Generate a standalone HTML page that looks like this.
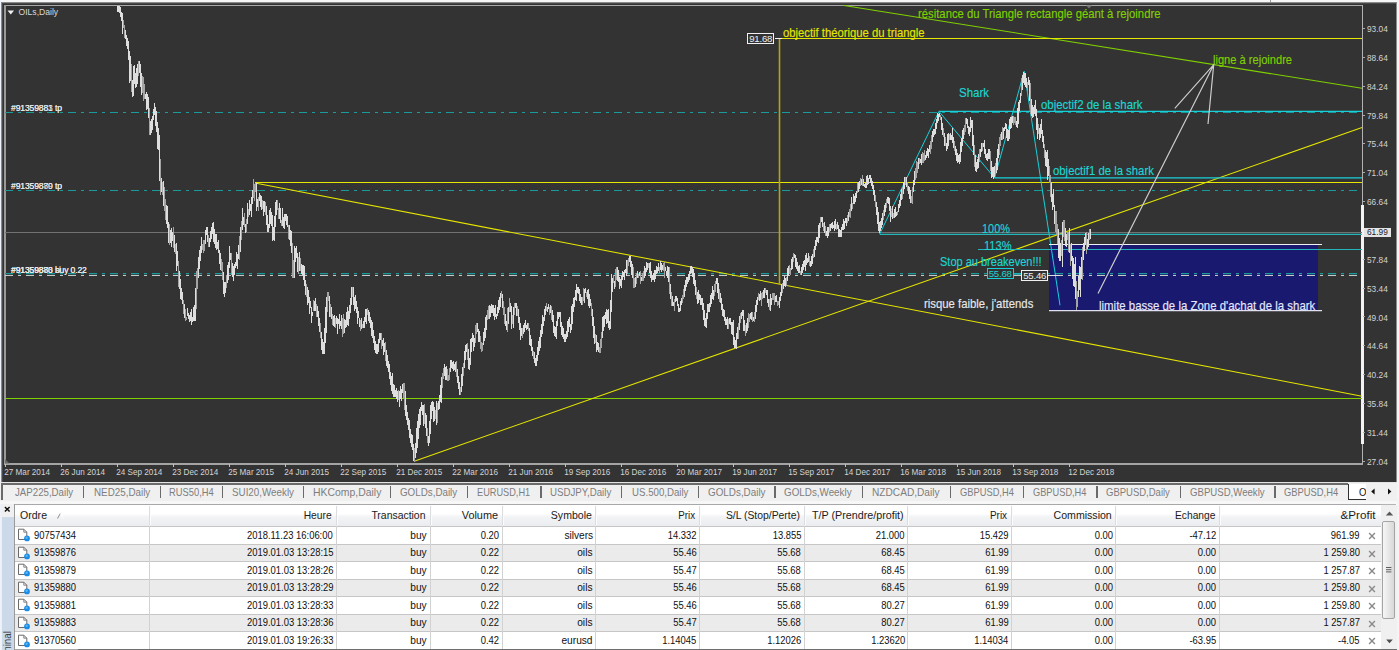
<!DOCTYPE html>
<html><head><meta charset="utf-8"><title>OILs,Daily</title>
<style>
html,body{margin:0;padding:0}
body{width:1399px;height:650px;position:relative;overflow:hidden;background:#f0f0f0;font-family:"Liberation Sans",sans-serif}
.bx{position:absolute}
.cl{position:absolute;white-space:nowrap;line-height:14px;-webkit-text-stroke:0.15px currentColor;transform-origin:0 0}
.pb{position:absolute;box-sizing:border-box;font-size:9.6px;line-height:9px;text-align:center;background:#333333;letter-spacing:-0.2px}
.ol{position:absolute;left:11px;white-space:nowrap;font-size:8.6px;line-height:11px;color:#e8e8e8;letter-spacing:-0.15px}
.ax{position:absolute;white-space:nowrap;font-size:8.3px;line-height:10px;color:#d4d4d4}
.tab{position:absolute;top:485.5px;white-space:nowrap;font-size:10.4px;line-height:14px;color:#7d7d7d;transform-origin:0 0}
.th{position:absolute;white-space:nowrap;font-size:10.5px;line-height:13px;color:#1a1a1a;transform-origin:0 0}
.td{position:absolute;white-space:nowrap;font-size:10.3px;line-height:13px;color:#101010;transform-origin:0 0}
.r{transform-origin:100% 0}
</style></head><body>
<div class="bx" style="left:0;top:0;width:1399px;height:2px;background:#f6f6f6"></div>
<div class="bx" style="left:1.4px;top:1.8px;width:1396px;height:481px;background:#8a8a8a"></div>
<div class="bx" style="left:2.2px;top:2.7px;width:1395px;height:480px;background:#484848"></div>
<div class="bx" style="left:3px;top:3.6px;width:1394px;height:478.4px;background:#333333"></div>
<div class="bx" style="left:1270px;top:0;width:1px;height:1.8px;background:#9a9a9a"></div>
<div class="bx" style="left:0;top:0;width:1.4px;height:650px;background:#eef2fa"></div>
<div class="bx" style="left:4px;top:5px;width:1359px;height:1px;background:#a8a8a8"></div>
<div class="bx" style="left:4px;top:5px;width:1.6px;height:459px;background:#9a9a9a"></div>
<div class="bx" style="left:4px;top:463.3px;width:1359px;height:1.3px;background:#a4a4a4"></div>
<div class="bx" style="left:1362px;top:5px;width:1px;height:459px;background:#b2b2b2"></div>
<div class="bx" style="left:1361px;top:205px;width:3px;height:238.5px;background:#f2f2f2"></div>
<svg width="1399" height="650" viewBox="0 0 1399 650" style="position:absolute;left:0;top:0"><rect x="1049" y="245" width="269" height="65.5" fill="#191970"/><line x1="5" y1="232.5" x2="1362" y2="232.5" stroke="#727272" stroke-width="1"/><line x1="5" y1="112.5" x2="1362" y2="112.5" stroke="#1a9a9a" stroke-width="1" stroke-dasharray="8 5 3 5"/><line x1="5" y1="190.5" x2="1362" y2="190.5" stroke="#1a9a9a" stroke-width="1" stroke-dasharray="8 5 3 5"/><line x1="5" y1="275.5" x2="1362" y2="275.5" stroke="#c8c8c8" stroke-width="1" stroke-dasharray="8 5 3 5"/><line x1="5" y1="273.7" x2="1362" y2="273.7" stroke="#1a9a9a" stroke-width="1.2" stroke-dasharray="8 5 3 5"/><line x1="5" y1="398.5" x2="1362" y2="398.5" stroke="#80d000" stroke-width="1.1"/><line x1="844" y1="5.5" x2="1362" y2="88.2" stroke="#80d000" stroke-width="1.1"/><line x1="255" y1="182.5" x2="1362" y2="182.5" stroke="#e6e600" stroke-width="1"/><line x1="255" y1="183" x2="1362" y2="396.3" stroke="#e6e600" stroke-width="1.05"/><line x1="415" y1="461" x2="1362" y2="127.5" stroke="#e6e600" stroke-width="1.05"/><line x1="779.5" y1="38" x2="779.5" y2="285" stroke="#b4a414" stroke-width="1.6"/><line x1="775" y1="38.5" x2="783" y2="38.5" stroke="#f0f0f0" stroke-width="1"/><line x1="782" y1="38.5" x2="1362" y2="38.5" stroke="#e6e600" stroke-width="1"/><polyline points="879.7,234 939,111.4 994.6,177.9 1024.2,71.3 1060,305.3" fill="none" stroke="#18d0da" stroke-width="1.0"/><line x1="939" y1="111.4" x2="1362" y2="111.4" stroke="#18d0da" stroke-width="1.3"/><line x1="994.6" y1="177.9" x2="1362" y2="177.9" stroke="#18d0da" stroke-width="1.2"/><line x1="879.7" y1="234.4" x2="1362" y2="234.4" stroke="#22b6ba" stroke-width="1.1"/><line x1="978" y1="249.5" x2="1362" y2="249.5" stroke="#22b6ba" stroke-width="1.2"/><line x1="1049" y1="244.5" x2="1322" y2="244.5" stroke="#f0f0f0" stroke-width="1.2"/><line x1="1049" y1="310.6" x2="1322" y2="310.6" stroke="#e0e0f0" stroke-width="1.2"/><path d="M117.5 5.5V11.7M118.5 5.5V11.5M119.5 5.5V12.8M120.5 7.3V16.5M121.5 12.1V21.4M122.5 13.4V34.1M125.5 30.3V38.7M126.5 35.1V45.8M127.5 37.5V48.7M128.5 40.5V60.1M129.5 51.4V82.9M130.5 56.0V80.6M132.5 80.3V97.1M133.5 66.2V95.5M134.5 64.6V83.7M135.5 73.0V87.5M136.5 68.3V87.0M137.5 64.0V83.7M139.5 60.6V73.1M140.5 64.1V87.2M141.5 72.9V94.5M145.5 94.3V99.2M146.5 91.6V110.0M147.5 94.1V109.1M148.5 96.9V118.3M150.5 121.0V134.5M151.5 119.0V133.2M152.5 116.3V129.8M153.5 108.8V119.7M154.5 103.4V114.5M155.5 106.7V126.2M156.5 110.5V131.5M157.5 121.5V149.1M158.5 128.3V150.1M159.5 135.1V181.4M161.5 177.8V192.1M163.5 181.3V205.5M166.5 204.7V223.5M167.5 206.2V228.2M168.5 222.1V242.8M170.5 230.1V242.7M171.5 227.9V247.2M172.5 232.3V241.2M174.5 234.9V251.6M176.5 243.4V271.3M177.5 250.8V266.0M179.5 271.4V288.6M180.5 279.0V298.9M181.5 288.2V300.4M182.5 291.9V304.1M184.5 304.1V318.1M187.5 307.7V316.0M188.5 313.1V319.1M189.5 314.8V322.1M190.5 312.1V320.7M191.5 308.5V324.8M192.5 317.4V321.9M193.5 306.8V320.5M194.5 305.3V321.1M195.5 288.4V321.1M198.5 256.9V277.7M199.5 250.2V269.2M200.5 246.4V261.4M201.5 237.4V252.8M205.5 230.4V244.3M206.5 226.6V235.1M207.5 226.6V241.7M209.5 238.0V246.6M210.5 231.4V242.3M211.5 226.8V239.2M212.5 222.5V234.4M213.5 222.3V241.5M214.5 229.0V244.1M215.5 233.5V247.5M216.5 233.9V250.1M217.5 241.5V248.8M218.5 239.5V253.2M219.5 250.2V264.1M220.5 253.2V270.0M223.5 271.9V293.5M224.5 282.0V296.8M225.5 282.0V292.5M227.5 264.8V282.8M228.5 261.8V279.9M229.5 246.4V268.3M230.5 253.4V260.3M232.5 262.7V277.4M233.5 266.0V281.0M234.5 263.7V274.5M235.5 261.5V268.1M236.5 251.5V265.9M237.5 254.3V268.8M238.5 244.8V259.4M240.5 227.1V252.4M242.5 207.6V229.7M243.5 217.4V225.1M245.5 223.9V232.5M247.5 203.0V223.6M249.5 200.2V215.3M250.5 204.3V211.0M251.5 196.7V216.7M252.5 189.5V203.6M256.5 183.3V210.6M257.5 198.9V206.9M259.5 192.5V201.3M260.5 194.9V206.9M261.5 195.6V210.2M263.5 200.5V215.7M264.5 200.8V211.8M266.5 205.7V224.8M267.5 215.3V232.4M268.5 223.6V232.4M269.5 210.1V228.1M270.5 208.4V223.9M271.5 212.1V225.8M272.5 214.7V240.7M273.5 227.1V240.3M274.5 216.4V240.7M275.5 201.7V226.9M276.5 199.8V215.2M279.5 203.3V219.3M280.5 207.8V223.2M282.5 208.1V226.2M283.5 217.2V228.3M284.5 213.6V228.7M285.5 213.9V221.1M286.5 213.9V225.2M287.5 216.4V227.1M289.5 224.8V240.4M290.5 229.5V246.3M291.5 231.1V252.9M294.5 246.3V277.7M295.5 248.1V261.7M296.5 246.3V258.2M297.5 253.1V271.5M299.5 251.6V271.2M301.5 263.9V274.0M302.5 265.4V274.9M303.5 265.0V280.3M304.5 265.9V285.5M305.5 279.9V295.1M307.5 286.5V305.2M308.5 289.9V302.9M309.5 297.2V313.5M310.5 300.8V308.4M311.5 307.0V322.7M312.5 312.2V315.9M314.5 300.9V311.0M315.5 297.7V311.3M317.5 306.2V317.0M318.5 311.1V326.2M319.5 317.5V331.6M321.5 331.5V349.5M322.5 338.5V354.4M323.5 342.3V354.4M324.5 328.0V354.3M325.5 306.6V342.5M326.5 297.0V332.7M329.5 296.3V316.5M331.5 307.2V318.5M333.5 316.2V325.8M334.5 314.7V326.6M336.5 315.9V324.0M337.5 318.4V334.0M338.5 318.5V323.7M339.5 314.2V328.6M340.5 320.9V325.5M341.5 314.6V328.7M344.5 318.9V333.0M345.5 320.3V328.0M346.5 312.3V327.0M347.5 306.5V325.2M348.5 310.9V325.7M349.5 305.4V319.2M350.5 297.6V313.0M351.5 287.1V305.3M353.5 287.1V304.7M354.5 296.8V311.4M355.5 294.6V308.6M356.5 301.1V312.6M357.5 306.6V323.8M358.5 311.0V318.2M359.5 317.7V327.2M361.5 318.3V328.9M363.5 320.8V327.7M364.5 317.0V327.6M365.5 309.3V322.1M366.5 308.7V323.8M368.5 309.9V321.4M369.5 312.0V322.8M370.5 317.0V328.4M371.5 319.8V335.5M372.5 322.4V338.0M373.5 329.9V342.9M374.5 335.7V350.0M375.5 340.6V353.0M376.5 343.5V354.0M377.5 344.3V354.0M378.5 338.5V352.2M379.5 333.2V343.0M380.5 333.2V339.7M382.5 339.6V345.9M383.5 337.5V355.2M384.5 342.7V352.3M386.5 349.6V366.0M387.5 355.3V368.4M388.5 360.6V371.7M389.5 363.5V378.9M390.5 372.3V384.6M391.5 376.3V390.9M392.5 372.7V393.6M393.5 383.6V396.5M394.5 384.5V396.7M395.5 389.8V397.3M396.5 387.8V398.7M397.5 391.2V401.5M399.5 391.4V407.4M400.5 385.5V399.2M401.5 389.0V400.9M402.5 384.0V393.3M405.5 391.4V416.1M406.5 405.2V420.3M407.5 411.6V424.8M408.5 417.8V430.4M409.5 419.7V437.7M410.5 429.1V442.8M411.5 433.5V447.2M412.5 434.7V449.9M413.5 444.2V461.0M415.5 442.9V458.4M416.5 428.0V452.7M417.5 421.1V447.5M418.5 414.0V438.5M419.5 408.9V427.5M420.5 406.5V424.9M421.5 401.6V411.0M422.5 405.3V415.4M423.5 404.7V426.3M425.5 412.8V427.8M426.5 414.6V435.8M428.5 435.7V445.8M429.5 421.1V442.8M430.5 405.3V434.2M431.5 401.9V418.9M432.5 401.4V411.4M433.5 401.9V421.6M434.5 406.8V421.3M436.5 400.6V424.5M438.5 401.1V409.5M439.5 394.9V409.0M440.5 384.9V401.5M441.5 377.4V403.0M444.5 363.5V375.7M445.5 366.8V380.4M446.5 366.2V379.5M450.5 360.4V372.4M451.5 360.4V367.9M452.5 361.7V368.6M453.5 360.7V370.5M454.5 363.9V370.3M455.5 362.3V372.1M457.5 369.2V382.5M458.5 376.2V389.2M459.5 381.6V395.2M461.5 373.8V391.7M462.5 366.6V385.6M464.5 350.8V368.4M465.5 345.1V360.3M466.5 344.3V352.3M468.5 349.0V368.5M469.5 358.2V370.3M470.5 339.4V365.2M471.5 338.4V351.7M472.5 332.5V342.1M473.5 335.3V350.6M474.5 338.3V346.8M477.5 323.4V332.1M478.5 329.3V342.0M479.5 331.0V341.8M483.5 332.1V345.3M484.5 328.1V341.4M485.5 317.3V337.9M486.5 314.7V330.3M489.5 305.3V319.3M490.5 306.1V316.8M491.5 303.5V313.1M492.5 304.8V312.5M493.5 305.2V316.1M494.5 307.9V319.5M495.5 305.3V316.6M496.5 314.4V319.2M497.5 307.2V316.0M498.5 300.4V313.1M499.5 296.5V309.8M500.5 292.6V306.9M502.5 294.3V308.3M505.5 314.4V325.6M506.5 320.6V329.6M508.5 307.1V323.6M510.5 303.3V312.2M511.5 306.0V328.6M513.5 307.1V327.9M515.5 303.4V308.4M516.5 302.8V316.2M518.5 309.2V322.5M519.5 317.1V330.3M520.5 322.7V340.2M521.5 328.2V335.5M523.5 325.1V333.8M524.5 322.7V331.6M525.5 319.5V327.9M526.5 324.5V330.0M527.5 322.9V329.1M529.5 327.9V344.6M530.5 335.3V346.2M531.5 339.4V350.7M532.5 346.7V356.0M534.5 352.4V362.5M535.5 358.2V366.4M536.5 354.8V366.4M537.5 346.5V360.6M538.5 341.0V355.1M539.5 337.4V351.1M540.5 329.7V348.4M541.5 323.9V336.6M542.5 315.0V333.5M543.5 316.7V325.7M544.5 308.7V321.0M545.5 305.6V314.7M547.5 306.5V311.8M548.5 303.8V309.3M550.5 304.9V313.1M552.5 310.0V322.2M553.5 315.4V333.1M554.5 326.3V335.9M555.5 327.4V337.2M556.5 321.0V339.2M557.5 311.7V325.7M558.5 311.8V319.3M559.5 311.7V316.7M560.5 311.7V326.9M561.5 322.1V334.6M562.5 326.4V337.4M563.5 328.2V339.4M564.5 333.7V341.6M565.5 333.8V341.6M566.5 331.3V339.4M567.5 320.5V336.7M568.5 319.0V331.7M569.5 317.4V327.1M570.5 324.0V332.6M571.5 305.8V329.6M572.5 303.6V323.7M573.5 297.5V312.0M574.5 297.3V307.0M575.5 290.0V300.1M576.5 284.3V301.1M577.5 286.8V292.9M578.5 286.8V293.8M579.5 289.3V301.2M580.5 293.7V303.3M581.5 296.9V304.6M584.5 288.6V302.9M585.5 288.2V293.2M587.5 289.5V299.2M588.5 288.6V305.7M589.5 294.3V308.1M590.5 298.7V306.1M592.5 308.9V325.7M593.5 317.3V337.6M594.5 326.1V343.8M596.5 335.3V352.3M597.5 341.6V350.2M598.5 342.7V351.6M602.5 317.3V338.0M603.5 316.4V331.1M604.5 315.4V326.5M605.5 312.1V319.4M606.5 309.4V324.1M607.5 309.8V323.3M608.5 309.4V327.8M609.5 321.0V330.0M610.5 300.0V328.5M611.5 274.4V311.7M612.5 278.2V291.7M614.5 281.2V289.4M617.5 266.8V280.6M618.5 270.2V282.0M619.5 277.3V288.5M620.5 278.6V285.8M621.5 276.3V288.0M622.5 270.8V280.3M623.5 271.6V276.6M624.5 269.8V280.3M625.5 268.8V273.3M626.5 260.4V276.3M629.5 255.5V261.8M630.5 255.5V267.3M631.5 261.3V274.5M632.5 264.1V278.3M635.5 277.3V286.7M637.5 270.5V277.8M639.5 271.5V275.8M641.5 276.7V281.4M644.5 265.5V277.5M645.5 268.2V275.7M646.5 261.7V272.1M647.5 263.1V270.2M649.5 263.1V273.0M650.5 262.3V277.9M651.5 270.5V282.1M652.5 274.6V280.3M653.5 273.4V279.9M654.5 270.0V281.5M655.5 270.4V278.9M656.5 266.4V273.9M657.5 266.7V273.4M658.5 262.7V270.8M660.5 260.9V270.3M661.5 263.3V272.4M662.5 265.3V269.9M665.5 267.0V271.2M666.5 270.5V276.1M667.5 266.1V277.5M668.5 267.3V282.1M670.5 283.5V299.2M672.5 296.3V306.3M673.5 302.1V306.3M675.5 295.6V302.1M676.5 295.6V301.4M677.5 298.0V306.0M678.5 303.6V311.6M679.5 307.7V311.6M680.5 301.1V310.5M681.5 298.0V305.4M684.5 284.6V297.4M685.5 280.1V290.7M686.5 277.3V286.7M687.5 277.2V283.6M688.5 273.7V281.9M689.5 271.2V279.5M690.5 266.3V274.1M691.5 266.3V273.4M692.5 266.6V277.1M693.5 269.3V284.2M694.5 272.8V285.5M695.5 280.4V295.2M697.5 292.4V303.9M698.5 290.0V303.4M699.5 294.0V300.1M700.5 295.3V305.4M701.5 297.5V304.8M702.5 297.9V310.4M703.5 302.5V320.4M704.5 310.3V325.9M705.5 318.2V327.3M706.5 313.0V328.0M707.5 304.2V318.8M708.5 303.6V312.3M709.5 303.0V311.6M710.5 294.8V306.7M711.5 293.1V304.3M712.5 285.9V299.4M713.5 290.1V299.9M716.5 277.9V284.3M717.5 278.0V293.0M718.5 282.6V298.5M720.5 293.3V302.6M721.5 298.4V309.8M722.5 303.9V315.8M723.5 308.7V316.5M724.5 309.9V321.3M725.5 316.5V325.1M726.5 318.9V325.1M727.5 317.0V328.6M729.5 317.8V324.1M730.5 317.8V325.1M731.5 322.0V333.7M732.5 322.2V335.2M733.5 320.3V344.5M734.5 336.9V347.8M735.5 339.6V347.5M736.5 333.4V349.0M737.5 326.6V338.8M739.5 315.5V329.6M741.5 311.6V319.3M742.5 309.9V316.2M743.5 310.2V330.9M744.5 319.8V331.4M746.5 323.3V332.9M747.5 317.9V330.9M750.5 313.3V318.5M751.5 312.2V320.0M753.5 317.0V321.2M755.5 305.2V318.6M756.5 300.4V311.6M757.5 297.0V304.5M759.5 294.4V300.5M760.5 290.5V299.5M763.5 290.2V298.2M764.5 288.0V297.7M766.5 289.9V295.1M767.5 290.2V303.2M768.5 298.5V307.3M770.5 293.7V311.3M771.5 298.2V304.5M775.5 296.0V302.3M776.5 295.1V301.5M779.5 296.5V307.5M780.5 292.0V301.4M781.5 284.1V295.5M783.5 280.0V288.8M784.5 276.4V285.5M785.5 278.3V287.0M787.5 267.7V280.9M788.5 265.8V276.3M791.5 258.8V270.4M792.5 256.7V268.8M794.5 253.5V258.3M795.5 254.9V267.1M796.5 258.4V269.2M797.5 262.1V271.1M798.5 266.1V272.6M799.5 265.1V273.0M801.5 266.5V274.9M802.5 263.9V273.1M803.5 260.7V269.9M804.5 259.9V266.5M805.5 255.3V270.9M806.5 253.2V265.2M807.5 258.3V262.6M808.5 252.9V261.5M810.5 261.1V267.2M811.5 256.0V265.7M812.5 254.0V264.3M814.5 246.0V256.5M815.5 239.9V249.8M816.5 237.3V245.5M817.5 236.8V242.3M818.5 225.3V243.1M819.5 222.6V237.6M821.5 216.7V222.3M822.5 216.7V226.9M824.5 221.7V233.3M826.5 231.1V236.2M827.5 226.9V238.2M828.5 227.2V236.4M830.5 224.1V231.3M831.5 223.2V228.1M832.5 221.5V228.5M833.5 225.3V228.3M834.5 220.7V230.9M835.5 218.6V228.8M837.5 222.2V229.2M838.5 224.6V237.3M839.5 229.4V237.4M840.5 230.4V237.4M841.5 226.6V237.2M842.5 224.0V230.2M843.5 219.2V229.6M844.5 221.1V229.2M845.5 218.2V222.7M846.5 217.9V225.9M848.5 212.4V221.3M851.5 196.7V210.6M853.5 194.3V203.5M854.5 196.1V203.5M855.5 193.0V201.7M856.5 191.4V198.2M858.5 181.7V192.4M859.5 180.7V189.3M861.5 179.4V185.4M863.5 179.4V186.3M864.5 183.8V186.9M865.5 182.5V188.0M866.5 175.7V188.0M867.5 175.0V184.6M868.5 177.7V184.4M869.5 175.0V179.3M870.5 175.0V183.0M871.5 177.9V186.3M872.5 180.6V189.4M873.5 185.1V195.1M874.5 189.6V201.1M876.5 201.7V215.2M877.5 207.3V223.6M878.5 212.4V230.5M879.5 222.0V233.0M880.5 221.2V231.1M881.5 217.6V228.1M882.5 213.4V224.7M884.5 205.4V215.6M885.5 202.5V212.3M887.5 196.8V203.4M888.5 196.8V204.1M889.5 197.6V210.7M890.5 205.5V222.3M892.5 205.8V218.6M894.5 208.6V217.7M895.5 207.3V217.4M896.5 211.5V216.2M898.5 204.0V212.3M899.5 199.6V208.2M900.5 193.6V205.5M901.5 188.9V200.1M903.5 182.1V193.8M904.5 177.3V189.0M906.5 177.3V186.6M908.5 186.0V194.2M909.5 186.8V199.4M910.5 189.5V202.7M913.5 180.3V192.3M914.5 170.8V184.9M918.5 157.7V169.1M920.5 159.4V163.0M921.5 154.4V165.4M925.5 155.0V159.5M926.5 150.6V158.1M927.5 147.5V156.4M928.5 148.7V157.9M929.5 145.3V152.0M932.5 131.3V142.3M933.5 129.1V136.7M934.5 128.5V134.6M935.5 123.2V133.5M936.5 119.4V129.4M937.5 113.0V122.7M938.5 113.5V120.8M939.5 113.0V116.7M941.5 117.2V130.1M942.5 123.0V135.0M944.5 132.7V146.3M946.5 143.1V150.5M947.5 133.7V148.5M948.5 133.4V145.7M950.5 133.2V140.3M951.5 134.9V139.7M952.5 128.4V143.1M953.5 137.2V147.9M955.5 145.7V155.1M956.5 148.8V160.7M957.5 153.1V162.9M958.5 155.2V162.4M959.5 153.9V163.5M960.5 142.2V161.8M961.5 137.8V152.0M962.5 129.5V146.1M963.5 127.6V139.0M966.5 117.5V123.9M967.5 118.6V127.9M968.5 125.5V133.5M969.5 127.1V135.9M970.5 116.7V131.9M971.5 120.4V127.6M972.5 120.4V146.0M973.5 135.0V154.9M975.5 154.6V170.6M976.5 162.1V172.3M977.5 159.2V169.2M978.5 153.5V167.9M980.5 148.9V156.6M981.5 143.3V152.0M983.5 143.3V147.0M984.5 139.6V153.8M985.5 149.3V158.3M986.5 153.9V160.1M987.5 152.8V161.0M988.5 149.1V159.0M989.5 149.1V158.8M991.5 160.7V178.3M992.5 167.0V176.5M993.5 167.4V178.7M994.5 166.4V176.5M996.5 158.0V173.4M997.5 149.1V170.0M998.5 144.4V158.4M1001.5 131.6V140.2M1003.5 128.1V139.4M1004.5 126.7V131.0M1005.5 123.1V129.2M1006.5 123.5V137.9M1007.5 129.4V140.6M1008.5 130.1V140.6M1009.5 118.6V138.7M1010.5 117.2V129.4M1011.5 117.4V127.5M1012.5 115.8V122.9M1016.5 121.4V126.8M1017.5 107.9V127.5M1018.5 101.6V123.6M1019.5 99.6V110.5M1020.5 92.9V102.8M1022.5 75.4V90.0M1023.5 72.3V82.6M1024.5 73.3V85.0M1025.5 73.0V86.7M1026.5 77.7V88.0M1028.5 77.3V84.5M1029.5 80.3V100.6M1031.5 98.5V116.3M1032.5 104.7V117.5M1033.5 107.1V116.5M1034.5 105.0V114.2M1035.5 99.7V115.7M1036.5 108.9V130.3M1037.5 117.8V139.0M1039.5 127.7V140.0M1040.5 124.4V137.5M1041.5 118.5V134.3M1042.5 130.4V142.3M1043.5 135.8V148.0M1045.5 150.2V165.7M1046.5 152.0V166.9M1047.5 149.5V180.0M1048.5 159.1V175.7M1051.5 181.5V202.4M1052.5 193.5V210.1M1053.5 188.9V207.2M1054.5 205.3V223.9M1058.5 229.1V257.9M1059.5 238.0V261.3M1060.5 242.9V261.4M1062.5 221.6V267.3M1065.5 227.6V245.7M1066.5 233.9V247.3M1069.5 227.6V252.5M1071.5 242.5V261.4M1072.5 256.3V279.1M1073.5 258.2V286.1M1074.5 264.1V287.0M1075.5 257.3V298.8M1078.5 276.1V297.4M1079.5 266.4V289.5M1080.5 267.3V297.4M1081.5 256.7V278.7M1083.5 242.6V260.1M1084.5 237.4V251.3M1085.5 233.1V244.5M1087.5 238.6V249.2M1088.5 232.8V247.4M1090.5 228.5V239.1" stroke="#dedede" stroke-width="1" fill="none" shape-rendering="crispEdges"/><path d="M123.5 20.0V27.5M124.5 25.0V38.0M131.5 63.5V91.9M138.5 60.7V76.0M142.5 76.1V93.3M143.5 76.9V100.9M144.5 83.6V98.6M149.5 108.2V134.5M160.5 159.3V194.9M162.5 182.2V194.9M164.5 187.4V211.3M165.5 199.1V220.2M169.5 223.7V244.7M173.5 227.3V247.7M175.5 244.3V254.0M178.5 261.2V287.4M183.5 299.7V314.1M185.5 309.1V321.4M186.5 317.0V320.3M196.5 271.4V309.1M197.5 268.3V288.6M202.5 243.5V249.8M203.5 240.2V252.6M204.5 239.7V251.0M208.5 234.9V246.6M221.5 259.4V270.8M222.5 261.5V280.3M226.5 275.0V288.1M231.5 253.4V275.1M239.5 236.4V260.1M241.5 221.1V239.9M244.5 213.1V227.4M246.5 218.8V232.0M248.5 209.4V217.2M253.5 179.1V198.2M254.5 184.1V201.3M255.5 183.3V191.6M258.5 196.8V210.6M262.5 199.9V209.3M265.5 201.8V214.7M277.5 200.3V209.7M278.5 207.5V219.1M281.5 219.7V226.3M288.5 225.1V239.1M292.5 243.0V277.7M293.5 260.3V277.7M298.5 257.3V273.7M300.5 257.8V270.7M306.5 284.3V296.7M313.5 300.3V310.9M316.5 304.0V316.7M320.5 322.6V337.9M327.5 292.0V311.5M328.5 292.0V300.5M330.5 303.8V317.3M332.5 314.4V325.0M335.5 317.7V327.7M342.5 318.2V336.5M343.5 313.8V333.9M352.5 287.1V296.7M360.5 319.6V330.7M362.5 324.0V328.0M367.5 308.3V315.1M381.5 333.3V348.5M385.5 342.1V361.4M398.5 389.7V400.4M403.5 382.6V399.1M404.5 382.6V410.4M414.5 447.6V462.0M424.5 403.5V424.1M427.5 427.8V442.7M435.5 410.3V419.3M437.5 402.6V423.3M442.5 373.2V387.5M443.5 368.0V378.8M447.5 368.9V381.2M448.5 375.0V381.2M449.5 367.9V380.0M456.5 360.8V377.2M460.5 387.3V395.2M463.5 362.7V376.3M467.5 343.1V359.8M475.5 325.4V342.8M476.5 323.4V334.3M480.5 335.7V349.0M481.5 341.9V352.2M482.5 342.9V350.8M487.5 310.4V320.2M488.5 306.2V319.1M501.5 290.8V298.2M503.5 301.3V315.2M504.5 306.5V323.9M507.5 307.8V332.2M509.5 298.1V311.7M512.5 315.2V324.1M514.5 302.8V315.4M517.5 305.9V315.7M522.5 328.1V338.0M528.5 323.4V331.0M533.5 350.9V359.0M546.5 303.0V310.6M549.5 307.0V314.7M551.5 305.6V320.2M582.5 296.8V304.6M583.5 288.2V301.0M586.5 291.7V297.4M591.5 302.5V316.1M595.5 334.3V343.0M599.5 347.1V352.5M600.5 338.7V352.5M601.5 332.4V348.0M613.5 274.8V283.3M615.5 269.2V286.9M616.5 266.8V280.1M627.5 259.6V274.3M628.5 258.1V265.6M633.5 267.1V287.9M634.5 278.4V287.9M636.5 272.8V283.8M638.5 273.7V278.1M640.5 270.6V284.4M642.5 273.4V280.6M643.5 271.3V280.6M648.5 263.1V267.6M659.5 267.3V272.6M663.5 263.1V270.6M664.5 262.3V278.1M669.5 266.6V294.3M671.5 291.7V306.3M674.5 299.4V311.0M682.5 295.4V303.4M683.5 288.9V299.1M696.5 286.7V298.7M714.5 284.4V296.2M715.5 281.3V291.5M719.5 289.0V301.6M728.5 319.0V329.4M738.5 323.2V339.0M740.5 312.7V322.5M745.5 324.9V335.7M748.5 312.8V328.4M749.5 313.8V322.3M752.5 311.6V321.8M754.5 312.3V321.8M758.5 293.4V300.3M761.5 292.8V306.0M762.5 292.1V298.8M765.5 288.0V293.3M769.5 299.4V309.8M772.5 292.7V299.8M773.5 292.9V299.7M774.5 292.7V304.6M777.5 301.2V305.9M778.5 300.7V305.3M782.5 282.6V293.3M786.5 276.7V286.4M789.5 265.3V273.7M790.5 267.8V275.2M793.5 253.3V262.2M800.5 270.5V274.5M809.5 255.8V266.0M813.5 248.8V257.5M820.5 216.7V228.1M823.5 222.5V230.6M825.5 226.2V236.3M829.5 223.8V232.3M836.5 224.4V230.3M847.5 215.2V222.5M849.5 209.4V217.0M850.5 204.1V217.5M852.5 202.9V208.7M857.5 183.1V192.9M860.5 177.5V185.7M862.5 175.4V185.7M875.5 194.8V206.9M883.5 209.8V220.0M886.5 198.8V207.7M891.5 211.2V216.7M893.5 212.9V217.6M897.5 211.3V215.4M902.5 187.3V199.4M905.5 177.3V184.7M907.5 181.6V190.5M911.5 196.3V202.7M912.5 187.3V203.9M915.5 168.3V179.7M916.5 161.4V177.9M917.5 162.1V172.7M919.5 158.3V163.6M922.5 152.3V163.2M923.5 152.7V162.5M924.5 150.4V161.4M930.5 140.7V154.4M931.5 134.6V148.5M940.5 114.9V120.3M943.5 127.6V136.5M945.5 136.6V145.5M949.5 133.6V139.6M954.5 140.6V150.6M964.5 124.5V135.1M965.5 117.9V131.8M974.5 145.4V166.7M979.5 148.5V162.4M982.5 143.3V150.8M990.5 151.0V170.6M995.5 162.9V173.9M999.5 137.4V155.4M1000.5 134.0V145.5M1002.5 127.2V139.5M1013.5 115.8V124.5M1014.5 116.7V123.3M1015.5 117.0V125.4M1021.5 77.9V96.1M1027.5 81.7V90.5M1030.5 82.9V113.9M1038.5 123.7V134.3M1044.5 143.6V157.9M1049.5 165.6V183.1M1050.5 174.6V196.5M1055.5 211.1V231.7M1056.5 211.4V234.7M1057.5 223.6V243.8M1061.5 239.5V256.1M1063.5 220.2V237.4M1064.5 220.2V241.3M1067.5 230.8V239.7M1068.5 232.4V251.9M1070.5 243.8V266.0M1076.5 281.3V310.2M1077.5 290.6V307.2M1082.5 247.4V279.5M1086.5 231.8V253.6M1089.5 228.8V239.7" stroke="#a4a4a4" stroke-width="1" fill="none" shape-rendering="crispEdges"/><path d="M1098 293.5L1213.7 64.7M1174.8 108.3L1213.7 64.7L1208 124" stroke="#cccccc" stroke-width="1.2" fill="none"/><line x1="1014" y1="274" x2="1021" y2="274" stroke="#18d0da" stroke-width="1"/><line x1="1048" y1="275.5" x2="1060" y2="275.5" stroke="#e0e0e0" stroke-width="1"/><path d="M1086 5.5h6l-3 3z" fill="#707070"/><path d="M5 459v4.5h4.5z" fill="#6c6c6c"/></svg>
<div class="cl" style="left:918.2px;top:7px;color:#80d000;font-size:12.8px;transform:scaleX(0.883)">résitance du Triangle rectangle géant à rejoindre</div><div class="cl" style="left:783.1px;top:25.5px;color:#e6e600;font-size:12.8px;transform:scaleX(0.880)">objectif théorique du triangle</div><div class="cl" style="left:1213.2px;top:53px;color:#80d000;font-size:12.8px;transform:scaleX(0.868)">ligne à rejoindre</div><div class="cl" style="left:959.2px;top:86px;color:#1cd6d4;font-size:12.8px;transform:scaleX(0.900)">Shark</div><div class="cl" style="left:1040.7px;top:97.5px;color:#1cd6d4;font-size:12.8px;transform:scaleX(0.892)">objectif2 de la shark</div><div class="cl" style="left:1053.2px;top:164px;color:#1cd6d4;font-size:12.8px;transform:scaleX(0.886)">objectif1 de la shark</div><div class="cl" style="left:981.9px;top:222px;color:#1cd6d4;font-size:12.8px;transform:scaleX(0.852)">100%</div><div class="cl" style="left:983.7px;top:238.5px;color:#1cd6d4;font-size:12.8px;transform:scaleX(0.868)">113%</div><div class="cl" style="left:940.3px;top:255px;color:#1cd6d4;font-size:12.8px;transform:scaleX(0.860)">Stop au breakeven!!!</div><div class="cl" style="left:924.3px;top:296.5px;color:#e8e8e8;font-size:12.8px;transform:scaleX(0.886)">risque faible, j'attends</div><div class="cl" style="left:1099.0px;top:299px;color:#e8e8fc;font-size:12.8px;transform:scaleX(0.893)">limite basse de la Zone d'achat de la shark</div><div class="pb" style="left:747px;top:32.6px;width:27.4px;height:11.8px;border:1px solid #f0f0f0;color:#f0f0f0">91.68</div><div class="pb" style="left:986.5px;top:268.2px;width:27.5px;height:10.8px;border:1px solid #18d0da;color:#1cd6d4">55.68</div><div class="pb" style="left:1021px;top:270.2px;width:27.4px;height:10.5px;border:1px solid #f0f0f0;color:#f0f0f0">55.46</div><div class="ol" style="top:102.5px">#91359881 tp</div><div class="ol" style="top:102.5px">#91359883 tp</div><div class="ol" style="top:180.5px">#91359880 tp</div><div class="ol" style="top:180.5px">#91359879 tp</div><div class="ol" style="top:265px">#91359880 buy 0.22</div><div class="ol" style="top:265px">#91359876 sl</div><div class="ol" style="top:264.6px">#91359883 buy 0.22</div><div class="ol" style="top:7px;left:18.5px;color:#d8d8d8;letter-spacing:0">OILs,Daily</div><svg style="position:absolute;left:7px;top:10px" width="8" height="5"><path d="M0.5 0.5h6.5l-3.25 4z" fill="#f0f0f0"/></svg>
<div class="ax" style="left:1367px;top:24.0px">93.04</div><div class="bx" style="left:1363px;top:28px;width:1.8px;height:1px;background:#a8a8a8"></div><div class="ax" style="left:1367px;top:52.9px">88.64</div><div class="bx" style="left:1363px;top:57px;width:1.8px;height:1px;background:#a8a8a8"></div><div class="ax" style="left:1367px;top:81.7px">84.24</div><div class="bx" style="left:1363px;top:86px;width:1.8px;height:1px;background:#a8a8a8"></div><div class="ax" style="left:1367px;top:110.6px">79.84</div><div class="bx" style="left:1363px;top:115px;width:1.8px;height:1px;background:#a8a8a8"></div><div class="ax" style="left:1367px;top:139.4px">75.44</div><div class="bx" style="left:1363px;top:143px;width:1.8px;height:1px;background:#a8a8a8"></div><div class="ax" style="left:1367px;top:168.2px">71.04</div><div class="bx" style="left:1363px;top:172px;width:1.8px;height:1px;background:#a8a8a8"></div><div class="ax" style="left:1367px;top:197.1px">66.64</div><div class="bx" style="left:1363px;top:201px;width:1.8px;height:1px;background:#a8a8a8"></div><div class="ax" style="left:1367px;top:254.8px">57.84</div><div class="bx" style="left:1363px;top:259px;width:1.8px;height:1px;background:#a8a8a8"></div><div class="ax" style="left:1367px;top:283.7px">53.44</div><div class="bx" style="left:1363px;top:288px;width:1.8px;height:1px;background:#a8a8a8"></div><div class="ax" style="left:1367px;top:312.5px">49.04</div><div class="bx" style="left:1363px;top:316px;width:1.8px;height:1px;background:#a8a8a8"></div><div class="ax" style="left:1367px;top:341.4px">44.64</div><div class="bx" style="left:1363px;top:345px;width:1.8px;height:1px;background:#a8a8a8"></div><div class="ax" style="left:1367px;top:370.2px">40.24</div><div class="bx" style="left:1363px;top:374px;width:1.8px;height:1px;background:#a8a8a8"></div><div class="ax" style="left:1367px;top:399.1px">35.84</div><div class="bx" style="left:1363px;top:403px;width:1.8px;height:1px;background:#a8a8a8"></div><div class="ax" style="left:1367px;top:427.9px">31.44</div><div class="bx" style="left:1363px;top:432px;width:1.8px;height:1px;background:#a8a8a8"></div><div class="ax" style="left:1367px;top:456.8px">27.04</div><div class="bx" style="left:1363px;top:461px;width:1.8px;height:1px;background:#a8a8a8"></div><div class="ax" style="left:1363.5px;top:228px;width:27px;height:9px;background:#e4e4e4;color:#202020;line-height:9px;text-indent:3.5px">61.99</div><div class="ax" style="left:4.3px;top:468px;font-size:8.15px">27 Mar 2014</div><div class="bx" style="left:5px;top:464px;width:1px;height:3px;background:#c0c0c0"></div><div class="ax" style="left:60.3px;top:468px;font-size:8.15px">26 Jun 2014</div><div class="bx" style="left:61px;top:464px;width:1px;height:3px;background:#c0c0c0"></div><div class="ax" style="left:116.3px;top:468px;font-size:8.15px">24 Sep 2014</div><div class="bx" style="left:117px;top:464px;width:1px;height:3px;background:#c0c0c0"></div><div class="ax" style="left:172.3px;top:468px;font-size:8.15px">23 Dec 2014</div><div class="bx" style="left:173px;top:464px;width:1px;height:3px;background:#c0c0c0"></div><div class="ax" style="left:228.3px;top:468px;font-size:8.15px">25 Mar 2015</div><div class="bx" style="left:229px;top:464px;width:1px;height:3px;background:#c0c0c0"></div><div class="ax" style="left:284.3px;top:468px;font-size:8.15px">24 Jun 2015</div><div class="bx" style="left:285px;top:464px;width:1px;height:3px;background:#c0c0c0"></div><div class="ax" style="left:340.3px;top:468px;font-size:8.15px">22 Sep 2015</div><div class="bx" style="left:341px;top:464px;width:1px;height:3px;background:#c0c0c0"></div><div class="ax" style="left:396.3px;top:468px;font-size:8.15px">21 Dec 2015</div><div class="bx" style="left:397px;top:464px;width:1px;height:3px;background:#c0c0c0"></div><div class="ax" style="left:452.3px;top:468px;font-size:8.15px">22 Mar 2016</div><div class="bx" style="left:453px;top:464px;width:1px;height:3px;background:#c0c0c0"></div><div class="ax" style="left:508.3px;top:468px;font-size:8.15px">21 Jun 2016</div><div class="bx" style="left:509px;top:464px;width:1px;height:3px;background:#c0c0c0"></div><div class="ax" style="left:564.3px;top:468px;font-size:8.15px">19 Sep 2016</div><div class="bx" style="left:565px;top:464px;width:1px;height:3px;background:#c0c0c0"></div><div class="ax" style="left:620.3px;top:468px;font-size:8.15px">16 Dec 2016</div><div class="bx" style="left:621px;top:464px;width:1px;height:3px;background:#c0c0c0"></div><div class="ax" style="left:676.3px;top:468px;font-size:8.15px">20 Mar 2017</div><div class="bx" style="left:677px;top:464px;width:1px;height:3px;background:#c0c0c0"></div><div class="ax" style="left:732.3px;top:468px;font-size:8.15px">19 Jun 2017</div><div class="bx" style="left:733px;top:464px;width:1px;height:3px;background:#c0c0c0"></div><div class="ax" style="left:788.3px;top:468px;font-size:8.15px">15 Sep 2017</div><div class="bx" style="left:789px;top:464px;width:1px;height:3px;background:#c0c0c0"></div><div class="ax" style="left:844.3px;top:468px;font-size:8.15px">14 Dec 2017</div><div class="bx" style="left:845px;top:464px;width:1px;height:3px;background:#c0c0c0"></div><div class="ax" style="left:900.3px;top:468px;font-size:8.15px">16 Mar 2018</div><div class="bx" style="left:901px;top:464px;width:1px;height:3px;background:#c0c0c0"></div><div class="ax" style="left:956.3px;top:468px;font-size:8.15px">15 Jun 2018</div><div class="bx" style="left:957px;top:464px;width:1px;height:3px;background:#c0c0c0"></div><div class="ax" style="left:1012.3px;top:468px;font-size:8.15px">13 Sep 2018</div><div class="bx" style="left:1013px;top:464px;width:1px;height:3px;background:#c0c0c0"></div><div class="ax" style="left:1068.3px;top:468px;font-size:8.15px">12 Dec 2018</div><div class="bx" style="left:1069px;top:464px;width:1px;height:3px;background:#c0c0c0"></div>
<div class="bx" style="left:0;top:482px;width:1399px;height:22px;background:#f0f0f0"></div>
<div class="bx" style="left:0;top:482px;width:1399px;height:1px;background:#e4e4e4"></div><div class="bx" style="left:1.2px;top:483px;width:1347.3px;height:1.6px;background:#6a6a6a"></div>
<div class="bx" style="left:1.2px;top:484px;width:1.4px;height:16px;background:#6a6a6a"></div>
<div class="bx" style="left:1347.6px;top:483.6px;width:18.5px;height:15.6px;background:#ffffff;border-left:1.3px solid #303030;border-bottom:1.3px solid #303030"></div>
<div class="tab" style="left:1359px;color:#101010;transform:scaleX(0.92)">O</div>
<div class="bx" style="left:1366px;top:482.5px;width:31px;height:18px;background:#f0f0f0"></div>
<svg style="position:absolute;left:1366px;top:483px" width="31" height="17"><path d="M8.6 5.6v5.8l-3.4-2.9z" fill="#101010"/><path d="M22 5.6v5.8l3.4-2.9z" fill="#101010"/></svg>
<span class="tab" style="left:15.4px;transform:scaleX(0.932)">JAP225,Daily</span><span class="tab" style="left:93.6px;transform:scaleX(0.946)">NED25,Daily</span><span class="tab" style="left:168.6px;transform:scaleX(0.901)">RUS50,H4</span><span class="tab" style="left:232.0px;transform:scaleX(0.944)">SUI20,Weekly</span><span class="tab" style="left:312.6px;transform:scaleX(1.003)">HKComp,Daily</span><span class="tab" style="left:400.0px;transform:scaleX(0.943)">GOLDs,Daily</span><span class="tab" style="left:477.1px;transform:scaleX(0.885)">EURUSD,H1</span><span class="tab" style="left:550.3px;transform:scaleX(0.933)">USDJPY,Daily</span><span class="tab" style="left:631.6px;transform:scaleX(0.931)">US.500,Daily</span><span class="tab" style="left:707.5px;transform:scaleX(0.949)">GOLDs,Daily</span><span class="tab" style="left:784.4px;transform:scaleX(0.947)">GOLDs,Weekly</span><span class="tab" style="left:871.8px;transform:scaleX(0.975)">NZDCAD,Daily</span><span class="tab" style="left:959.5px;transform:scaleX(0.897)">GBPUSD,H4</span><span class="tab" style="left:1033.1px;transform:scaleX(0.890)">GBPUSD,H4</span><span class="tab" style="left:1106.3px;transform:scaleX(0.914)">GBPUSD,Daily</span><span class="tab" style="left:1189.9px;transform:scaleX(0.925)">GBPUSD,Weekly</span><span class="tab" style="left:1284.3px;transform:scaleX(0.902)">GBPUSD,H4</span><div class="bx" style="left:82.7px;top:486px;width:1.2px;height:11.5px;background:#6a6a6a"></div><div class="bx" style="left:160.0px;top:486px;width:1.2px;height:11.5px;background:#6a6a6a"></div><div class="bx" style="left:222.1px;top:486px;width:1.2px;height:11.5px;background:#6a6a6a"></div><div class="bx" style="left:302.7px;top:486px;width:1.2px;height:11.5px;background:#6a6a6a"></div><div class="bx" style="left:390.1px;top:486px;width:1.2px;height:11.5px;background:#6a6a6a"></div><div class="bx" style="left:466.7px;top:486px;width:1.2px;height:11.5px;background:#6a6a6a"></div><div class="bx" style="left:540.4px;top:486px;width:1.2px;height:11.5px;background:#6a6a6a"></div><div class="bx" style="left:621.0px;top:486px;width:1.2px;height:11.5px;background:#6a6a6a"></div><div class="bx" style="left:697.6px;top:486px;width:1.2px;height:11.5px;background:#6a6a6a"></div><div class="bx" style="left:774.4px;top:486px;width:1.2px;height:11.5px;background:#6a6a6a"></div><div class="bx" style="left:861.8px;top:486px;width:1.2px;height:11.5px;background:#6a6a6a"></div><div class="bx" style="left:949.6px;top:486px;width:1.2px;height:11.5px;background:#6a6a6a"></div><div class="bx" style="left:1022.8px;top:486px;width:1.2px;height:11.5px;background:#6a6a6a"></div><div class="bx" style="left:1096.4px;top:486px;width:1.2px;height:11.5px;background:#6a6a6a"></div><div class="bx" style="left:1180.0px;top:486px;width:1.2px;height:11.5px;background:#6a6a6a"></div><div class="bx" style="left:1274.4px;top:486px;width:1.2px;height:11.5px;background:#6a6a6a"></div>
<div class="bx" style="left:0;top:500.5px;width:1399px;height:3.5px;background:#f7f7f7"></div>
<div class="bx" style="left:2px;top:516.5px;width:11.5px;height:134px;background:#cbd9e9"></div>
<svg style="position:absolute;left:3.6px;top:506.3px" width="7" height="7"><path d="M0.9 0.9L5.6 5.6M5.6 0.9L0.9 5.6" stroke="#101010" stroke-width="1.45"/></svg>
<div class="bx" style="left:1px;top:668px;transform-origin:0 0;transform:rotate(-90deg) scaleX(0.93);font-size:10.5px;line-height:12px;color:#404040;white-space:nowrap;width:60px">Terminal</div>
<div class="bx" style="left:14px;top:504px;width:1383px;height:146px;background:#ffffff;border-left:1px solid #9a9a9a;box-sizing:border-box"></div>
<div class="bx" style="left:15px;top:504px;width:1366px;height:22px;background:linear-gradient(#ffffff 0%,#ffffff 42%,#f3f4f6 55%,#eaecef 100%);border-top:1px solid #a8a8a8;box-sizing:border-box"></div><div class="th" style="left:20.0px;top:509.1px;transform:scaleX(1.006)">Ordre</div><svg style="position:absolute;left:56px;top:512px" width="10" height="8"><path d="M1.5 6.5L4.3 1.5" stroke="#808080" stroke-width="0.9"/><path d="M4.6 1.5L7.4 6.5" stroke="#ffffff" stroke-width="0.9"/></svg><div class="th r" style="right:1067.3px;top:509.1px;transform:scaleX(0.976)">Heure</div><div class="bx" style="left:149.0px;top:506px;width:1px;height:19px;background:#dcdde0"></div><div class="bx" style="left:150.0px;top:506px;width:1px;height:19px;background:#fcfcfc"></div><div class="th r" style="right:973.3px;top:509.1px;transform:scaleX(0.993)">Transaction</div><div class="bx" style="left:335.5px;top:506px;width:1px;height:19px;background:#dcdde0"></div><div class="bx" style="left:336.5px;top:506px;width:1px;height:19px;background:#fcfcfc"></div><div class="th r" style="right:901.0px;top:509.1px;transform:scaleX(1.036)">Volume</div><div class="bx" style="left:429.5px;top:506px;width:1px;height:19px;background:#dcdde0"></div><div class="bx" style="left:430.5px;top:506px;width:1px;height:19px;background:#fcfcfc"></div><div class="th r" style="right:807.6px;top:509.1px;transform:scaleX(1.004)">Symbole</div><div class="bx" style="left:501.8px;top:506px;width:1px;height:19px;background:#dcdde0"></div><div class="bx" style="left:502.8px;top:506px;width:1px;height:19px;background:#fcfcfc"></div><div class="th r" style="right:703.8px;top:509.1px;transform:scaleX(0.929)">Prix</div><div class="bx" style="left:595.2px;top:506px;width:1px;height:19px;background:#dcdde0"></div><div class="bx" style="left:596.2px;top:506px;width:1px;height:19px;background:#fcfcfc"></div><div class="th r" style="right:599.3px;top:509.1px;transform:scaleX(0.988)">S/L (Stop/Perte)</div><div class="bx" style="left:699.0px;top:506px;width:1px;height:19px;background:#dcdde0"></div><div class="bx" style="left:700.0px;top:506px;width:1px;height:19px;background:#fcfcfc"></div><div class="th r" style="right:495.5px;top:509.1px;transform:scaleX(1.023)">T/P (Prendre/profit)</div><div class="bx" style="left:803.5px;top:506px;width:1px;height:19px;background:#dcdde0"></div><div class="bx" style="left:804.5px;top:506px;width:1px;height:19px;background:#fcfcfc"></div><div class="th r" style="right:391.6px;top:509.1px;transform:scaleX(0.946)">Prix</div><div class="bx" style="left:907.3px;top:506px;width:1px;height:19px;background:#dcdde0"></div><div class="bx" style="left:908.3px;top:506px;width:1px;height:19px;background:#fcfcfc"></div><div class="th r" style="right:287.7px;top:509.1px;transform:scaleX(1.008)">Commission</div><div class="bx" style="left:1011.2px;top:506px;width:1px;height:19px;background:#dcdde0"></div><div class="bx" style="left:1012.2px;top:506px;width:1px;height:19px;background:#fcfcfc"></div><div class="th r" style="right:183.9px;top:509.1px;transform:scaleX(0.975)">Echange</div><div class="bx" style="left:1115.1px;top:506px;width:1px;height:19px;background:#dcdde0"></div><div class="bx" style="left:1116.1px;top:506px;width:1px;height:19px;background:#fcfcfc"></div><div class="th r" style="right:23.6px;top:509.1px;transform:scaleX(1.108)">&amp;Profit</div><div class="bx" style="left:1218.9px;top:506px;width:1px;height:19px;background:#dcdde0"></div><div class="bx" style="left:1219.9px;top:506px;width:1px;height:19px;background:#fcfcfc"></div><div class="bx" style="left:15px;top:526.0px;width:1366px;height:17.6px;background:#ffffff;border-top:1px solid #c6c6c6;box-sizing:border-box"></div><div class="td" style="left:33.7px;top:528.6px;transform:scaleX(0.915)">90757434</div><svg style="position:absolute;left:16.8px;top:528.1px" width="14" height="14" viewBox="0 0 14 14"><path d="M1.5 1.2h5.3l3 3v7.3h-8.3z" fill="#fdfdfd" stroke="#6a6a6a" stroke-width="1"/><path d="M6.8 1.2v3h3" fill="none" stroke="#6a6a6a" stroke-width="0.8"/><circle cx="10" cy="10.4" r="2.9" fill="#1b8ce6"/><circle cx="9.6" cy="9.8" r="1.2" fill="#58b4f6"/></svg><div class="td r" style="right:1066.0px;top:528.6px;transform:scaleX(0.915)">2018.11.23 16:06:00</div><div class="td r" style="right:972.0px;top:528.6px;transform:scaleX(0.985)">buy</div><div class="td r" style="right:899.7px;top:528.6px;transform:scaleX(0.915)">0.20</div><div class="td r" style="right:806.3px;top:528.6px;transform:scaleX(0.985)">silvers</div><div class="td r" style="right:702.5px;top:528.6px;transform:scaleX(0.915)">14.332</div><div class="td r" style="right:598.0px;top:528.6px;transform:scaleX(0.915)">13.855</div><div class="td r" style="right:494.2px;top:528.6px;transform:scaleX(0.915)">21.000</div><div class="td r" style="right:390.3px;top:528.6px;transform:scaleX(0.915)">15.429</div><div class="td r" style="right:286.4px;top:528.6px;transform:scaleX(0.915)">0.00</div><div class="td r" style="right:182.6px;top:528.6px;transform:scaleX(0.915)">-47.12</div><div class="td r" style="right:39.4px;top:528.6px;transform:scaleX(0.915)">961.99</div><svg style="position:absolute;left:1367.5px;top:531.9px" width="8" height="8"><path d="M1.1 1.1L6.9 6.9M6.9 1.1L1.1 6.9" stroke="#8a8a8a" stroke-width="1.4"/></svg><div class="bx" style="left:15px;top:543.6px;width:1366px;height:17.5px;background:#ebebeb;border-top:1px solid #c6c6c6;box-sizing:border-box"></div><div class="td" style="left:33.7px;top:546.2px;transform:scaleX(0.915)">91359876</div><svg style="position:absolute;left:16.8px;top:545.7px" width="14" height="14" viewBox="0 0 14 14"><path d="M1.5 1.2h5.3l3 3v7.3h-8.3z" fill="#fdfdfd" stroke="#6a6a6a" stroke-width="1"/><path d="M6.8 1.2v3h3" fill="none" stroke="#6a6a6a" stroke-width="0.8"/><circle cx="10" cy="10.4" r="2.9" fill="#1b8ce6"/><circle cx="9.6" cy="9.8" r="1.2" fill="#58b4f6"/></svg><div class="td r" style="right:1066.0px;top:546.2px;transform:scaleX(0.915)">2019.01.03 13:28:15</div><div class="td r" style="right:972.0px;top:546.2px;transform:scaleX(0.985)">buy</div><div class="td r" style="right:899.7px;top:546.2px;transform:scaleX(0.915)">0.22</div><div class="td r" style="right:806.3px;top:546.2px;transform:scaleX(0.985)">oils</div><div class="td r" style="right:702.5px;top:546.2px;transform:scaleX(0.915)">55.46</div><div class="td r" style="right:598.0px;top:546.2px;transform:scaleX(0.915)">55.68</div><div class="td r" style="right:494.2px;top:546.2px;transform:scaleX(0.915)">68.45</div><div class="td r" style="right:390.3px;top:546.2px;transform:scaleX(0.915)">61.99</div><div class="td r" style="right:286.4px;top:546.2px;transform:scaleX(0.915)">0.00</div><div class="td r" style="right:182.6px;top:546.2px;transform:scaleX(0.915)">0.00</div><div class="td r" style="right:39.4px;top:546.2px;transform:scaleX(0.915)">1 259.80</div><svg style="position:absolute;left:1367.5px;top:549.5px" width="8" height="8"><path d="M1.1 1.1L6.9 6.9M6.9 1.1L1.1 6.9" stroke="#8a8a8a" stroke-width="1.4"/></svg><div class="bx" style="left:15px;top:561.1px;width:1366px;height:17.6px;background:#ffffff;border-top:1px solid #c6c6c6;box-sizing:border-box"></div><div class="td" style="left:33.7px;top:563.7px;transform:scaleX(0.915)">91359879</div><svg style="position:absolute;left:16.8px;top:563.2px" width="14" height="14" viewBox="0 0 14 14"><path d="M1.5 1.2h5.3l3 3v7.3h-8.3z" fill="#fdfdfd" stroke="#6a6a6a" stroke-width="1"/><path d="M6.8 1.2v3h3" fill="none" stroke="#6a6a6a" stroke-width="0.8"/><circle cx="10" cy="10.4" r="2.9" fill="#1b8ce6"/><circle cx="9.6" cy="9.8" r="1.2" fill="#58b4f6"/></svg><div class="td r" style="right:1066.0px;top:563.7px;transform:scaleX(0.915)">2019.01.03 13:28:26</div><div class="td r" style="right:972.0px;top:563.7px;transform:scaleX(0.985)">buy</div><div class="td r" style="right:899.7px;top:563.7px;transform:scaleX(0.915)">0.22</div><div class="td r" style="right:806.3px;top:563.7px;transform:scaleX(0.985)">oils</div><div class="td r" style="right:702.5px;top:563.7px;transform:scaleX(0.915)">55.47</div><div class="td r" style="right:598.0px;top:563.7px;transform:scaleX(0.915)">55.68</div><div class="td r" style="right:494.2px;top:563.7px;transform:scaleX(0.915)">68.45</div><div class="td r" style="right:390.3px;top:563.7px;transform:scaleX(0.915)">61.99</div><div class="td r" style="right:286.4px;top:563.7px;transform:scaleX(0.915)">0.00</div><div class="td r" style="right:182.6px;top:563.7px;transform:scaleX(0.915)">0.00</div><div class="td r" style="right:39.4px;top:563.7px;transform:scaleX(0.915)">1 257.87</div><svg style="position:absolute;left:1367.5px;top:567.0px" width="8" height="8"><path d="M1.1 1.1L6.9 6.9M6.9 1.1L1.1 6.9" stroke="#8a8a8a" stroke-width="1.4"/></svg><div class="bx" style="left:15px;top:578.7px;width:1366px;height:17.6px;background:#ebebeb;border-top:1px solid #c6c6c6;box-sizing:border-box"></div><div class="td" style="left:33.7px;top:581.3px;transform:scaleX(0.915)">91359880</div><svg style="position:absolute;left:16.8px;top:580.8px" width="14" height="14" viewBox="0 0 14 14"><path d="M1.5 1.2h5.3l3 3v7.3h-8.3z" fill="#fdfdfd" stroke="#6a6a6a" stroke-width="1"/><path d="M6.8 1.2v3h3" fill="none" stroke="#6a6a6a" stroke-width="0.8"/><circle cx="10" cy="10.4" r="2.9" fill="#1b8ce6"/><circle cx="9.6" cy="9.8" r="1.2" fill="#58b4f6"/></svg><div class="td r" style="right:1066.0px;top:581.3px;transform:scaleX(0.915)">2019.01.03 13:28:29</div><div class="td r" style="right:972.0px;top:581.3px;transform:scaleX(0.985)">buy</div><div class="td r" style="right:899.7px;top:581.3px;transform:scaleX(0.915)">0.22</div><div class="td r" style="right:806.3px;top:581.3px;transform:scaleX(0.985)">oils</div><div class="td r" style="right:702.5px;top:581.3px;transform:scaleX(0.915)">55.46</div><div class="td r" style="right:598.0px;top:581.3px;transform:scaleX(0.915)">55.68</div><div class="td r" style="right:494.2px;top:581.3px;transform:scaleX(0.915)">68.45</div><div class="td r" style="right:390.3px;top:581.3px;transform:scaleX(0.915)">61.99</div><div class="td r" style="right:286.4px;top:581.3px;transform:scaleX(0.915)">0.00</div><div class="td r" style="right:182.6px;top:581.3px;transform:scaleX(0.915)">0.00</div><div class="td r" style="right:39.4px;top:581.3px;transform:scaleX(0.915)">1 259.80</div><svg style="position:absolute;left:1367.5px;top:584.6px" width="8" height="8"><path d="M1.1 1.1L6.9 6.9M6.9 1.1L1.1 6.9" stroke="#8a8a8a" stroke-width="1.4"/></svg><div class="bx" style="left:15px;top:596.3px;width:1366px;height:17.5px;background:#ffffff;border-top:1px solid #c6c6c6;box-sizing:border-box"></div><div class="td" style="left:33.7px;top:598.9px;transform:scaleX(0.915)">91359881</div><svg style="position:absolute;left:16.8px;top:598.4px" width="14" height="14" viewBox="0 0 14 14"><path d="M1.5 1.2h5.3l3 3v7.3h-8.3z" fill="#fdfdfd" stroke="#6a6a6a" stroke-width="1"/><path d="M6.8 1.2v3h3" fill="none" stroke="#6a6a6a" stroke-width="0.8"/><circle cx="10" cy="10.4" r="2.9" fill="#1b8ce6"/><circle cx="9.6" cy="9.8" r="1.2" fill="#58b4f6"/></svg><div class="td r" style="right:1066.0px;top:598.9px;transform:scaleX(0.915)">2019.01.03 13:28:33</div><div class="td r" style="right:972.0px;top:598.9px;transform:scaleX(0.985)">buy</div><div class="td r" style="right:899.7px;top:598.9px;transform:scaleX(0.915)">0.22</div><div class="td r" style="right:806.3px;top:598.9px;transform:scaleX(0.985)">oils</div><div class="td r" style="right:702.5px;top:598.9px;transform:scaleX(0.915)">55.46</div><div class="td r" style="right:598.0px;top:598.9px;transform:scaleX(0.915)">55.68</div><div class="td r" style="right:494.2px;top:598.9px;transform:scaleX(0.915)">80.27</div><div class="td r" style="right:390.3px;top:598.9px;transform:scaleX(0.915)">61.99</div><div class="td r" style="right:286.4px;top:598.9px;transform:scaleX(0.915)">0.00</div><div class="td r" style="right:182.6px;top:598.9px;transform:scaleX(0.915)">0.00</div><div class="td r" style="right:39.4px;top:598.9px;transform:scaleX(0.915)">1 259.80</div><svg style="position:absolute;left:1367.5px;top:602.2px" width="8" height="8"><path d="M1.1 1.1L6.9 6.9M6.9 1.1L1.1 6.9" stroke="#8a8a8a" stroke-width="1.4"/></svg><div class="bx" style="left:15px;top:613.8px;width:1366px;height:17.6px;background:#ebebeb;border-top:1px solid #c6c6c6;box-sizing:border-box"></div><div class="td" style="left:33.7px;top:616.4px;transform:scaleX(0.915)">91359883</div><svg style="position:absolute;left:16.8px;top:615.9px" width="14" height="14" viewBox="0 0 14 14"><path d="M1.5 1.2h5.3l3 3v7.3h-8.3z" fill="#fdfdfd" stroke="#6a6a6a" stroke-width="1"/><path d="M6.8 1.2v3h3" fill="none" stroke="#6a6a6a" stroke-width="0.8"/><circle cx="10" cy="10.4" r="2.9" fill="#1b8ce6"/><circle cx="9.6" cy="9.8" r="1.2" fill="#58b4f6"/></svg><div class="td r" style="right:1066.0px;top:616.4px;transform:scaleX(0.915)">2019.01.03 13:28:36</div><div class="td r" style="right:972.0px;top:616.4px;transform:scaleX(0.985)">buy</div><div class="td r" style="right:899.7px;top:616.4px;transform:scaleX(0.915)">0.22</div><div class="td r" style="right:806.3px;top:616.4px;transform:scaleX(0.985)">oils</div><div class="td r" style="right:702.5px;top:616.4px;transform:scaleX(0.915)">55.47</div><div class="td r" style="right:598.0px;top:616.4px;transform:scaleX(0.915)">55.68</div><div class="td r" style="right:494.2px;top:616.4px;transform:scaleX(0.915)">80.27</div><div class="td r" style="right:390.3px;top:616.4px;transform:scaleX(0.915)">61.99</div><div class="td r" style="right:286.4px;top:616.4px;transform:scaleX(0.915)">0.00</div><div class="td r" style="right:182.6px;top:616.4px;transform:scaleX(0.915)">0.00</div><div class="td r" style="right:39.4px;top:616.4px;transform:scaleX(0.915)">1 257.87</div><svg style="position:absolute;left:1367.5px;top:619.7px" width="8" height="8"><path d="M1.1 1.1L6.9 6.9M6.9 1.1L1.1 6.9" stroke="#8a8a8a" stroke-width="1.4"/></svg><div class="bx" style="left:15px;top:631.4px;width:1366px;height:17.6px;background:#ffffff;border-top:1px solid #c6c6c6;box-sizing:border-box"></div><div class="td" style="left:33.7px;top:634.0px;transform:scaleX(0.915)">91370560</div><svg style="position:absolute;left:16.8px;top:633.5px" width="14" height="14" viewBox="0 0 14 14"><path d="M1.5 1.2h5.3l3 3v7.3h-8.3z" fill="#fdfdfd" stroke="#6a6a6a" stroke-width="1"/><path d="M6.8 1.2v3h3" fill="none" stroke="#6a6a6a" stroke-width="0.8"/><circle cx="10" cy="10.4" r="2.9" fill="#1b8ce6"/><circle cx="9.6" cy="9.8" r="1.2" fill="#58b4f6"/></svg><div class="td r" style="right:1066.0px;top:634.0px;transform:scaleX(0.915)">2019.01.03 19:26:33</div><div class="td r" style="right:972.0px;top:634.0px;transform:scaleX(0.985)">buy</div><div class="td r" style="right:899.7px;top:634.0px;transform:scaleX(0.915)">0.42</div><div class="td r" style="right:806.3px;top:634.0px;transform:scaleX(0.985)">eurusd</div><div class="td r" style="right:702.5px;top:634.0px;transform:scaleX(0.915)">1.14045</div><div class="td r" style="right:598.0px;top:634.0px;transform:scaleX(0.915)">1.12026</div><div class="td r" style="right:494.2px;top:634.0px;transform:scaleX(0.915)">1.23620</div><div class="td r" style="right:390.3px;top:634.0px;transform:scaleX(0.915)">1.14034</div><div class="td r" style="right:286.4px;top:634.0px;transform:scaleX(0.915)">0.00</div><div class="td r" style="right:182.6px;top:634.0px;transform:scaleX(0.915)">-63.95</div><div class="td r" style="right:39.4px;top:634.0px;transform:scaleX(0.915)">-4.05</div><svg style="position:absolute;left:1367.5px;top:637.3px" width="8" height="8"><path d="M1.1 1.1L6.9 6.9M6.9 1.1L1.1 6.9" stroke="#8a8a8a" stroke-width="1.4"/></svg><div class="bx" style="left:149.0px;top:526px;width:1px;height:124px;background:#d2d2d2"></div><div class="bx" style="left:335.5px;top:526px;width:1px;height:124px;background:#d2d2d2"></div><div class="bx" style="left:429.5px;top:526px;width:1px;height:124px;background:#d2d2d2"></div><div class="bx" style="left:501.8px;top:526px;width:1px;height:124px;background:#d2d2d2"></div><div class="bx" style="left:595.2px;top:526px;width:1px;height:124px;background:#d2d2d2"></div><div class="bx" style="left:699.0px;top:526px;width:1px;height:124px;background:#d2d2d2"></div><div class="bx" style="left:803.5px;top:526px;width:1px;height:124px;background:#d2d2d2"></div><div class="bx" style="left:907.3px;top:526px;width:1px;height:124px;background:#d2d2d2"></div><div class="bx" style="left:1011.2px;top:526px;width:1px;height:124px;background:#d2d2d2"></div><div class="bx" style="left:1115.1px;top:526px;width:1px;height:124px;background:#d2d2d2"></div><div class="bx" style="left:1218.9px;top:526px;width:1px;height:124px;background:#d2d2d2"></div>
<div class="bx" style="left:15px;top:648.7px;width:63px;height:1.3px;background:#a8a8a8"></div><div class="bx" style="left:78px;top:648.6px;width:1319px;height:1.4px;background:#6e6e6e"></div><div class="bx" style="left:1381px;top:504.5px;width:16px;height:144px;background:#f0f0f0"></div><div class="bx" style="left:1381px;top:504px;width:15px;height:1px;background:#b4b4b4"></div>
<div class="bx" style="left:1382.4px;top:521.4px;width:12.2px;height:97.4px;background:linear-gradient(90deg,#f6f6f6,#d8d8d8);border:1px solid #a4a4a4;border-radius:2px;box-sizing:border-box"></div>
<svg style="position:absolute;left:1383px;top:505px" width="13" height="145"><path d="M2.8 10.4l3.7-3.8l3.7 3.8z" fill="#585858"/><path d="M3.2 134.6l3.3 3.6l3.3-3.6z" fill="#505050"/><path d="M3 62.5h5.4M3 64.7h5.4M3 66.9h5.4" stroke="#505050" stroke-width="0.9"/></svg>
<div class="bx" style="left:1397px;top:0;width:2px;height:650px;background:#f4f4f4"></div>
<div class="bx" style="left:1396.4px;top:2px;width:1px;height:480px;background:#8c8c8c"></div>
</body></html>
